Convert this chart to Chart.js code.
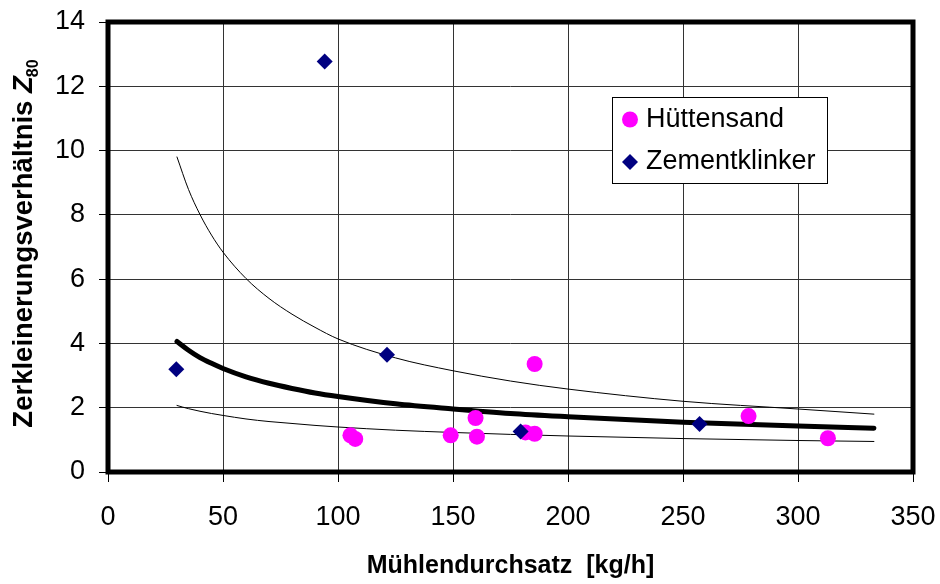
<!DOCTYPE html>
<html><head><meta charset="utf-8">
<script src="https://cdn.jsdelivr.net/npm/chart.js@4.4.1/dist/chart.umd.min.js"></script>
<style>html,body{margin:0;padding:0;background:#fff}#wrap{width:940px;height:584px;position:relative}</style>
</head><body><div id="wrap"><canvas id="c" width="940" height="584"></canvas></div>
<script>
// ---- data ----
const huettensandX = [105.4, 107.5, 149.0, 159.8, 160.4, 181.5, 185.5, 185.5, 278.5, 313.0];
const huettensandY = [1.14, 1.03, 1.14, 1.68, 1.10, 1.23, 1.19, 3.36, 1.74, 1.05];
const klinkerX = [29.7, 94.2, 121.3, 179.4, 257.2];
const klinkerY = [3.20, 12.77, 3.65, 1.26, 1.49];
const curveX = [30, 35, 40, 45, 50, 60, 70, 80, 90, 100, 125, 150, 175, 200, 250, 300, 333];
const fitY   = [4.06, 3.79, 3.56, 3.38, 3.22, 2.96, 2.76, 2.60, 2.46, 2.35, 2.12, 1.96, 1.82, 1.72, 1.55, 1.43, 1.36];
const upperY = [9.80, 8.79, 8.01, 7.37, 6.84, 6.02, 5.40, 4.91, 4.50, 4.14, 3.55, 3.15, 2.83, 2.58, 2.20, 1.96, 1.80];
const lowerY = [2.07, 1.97, 1.89, 1.82, 1.76, 1.65, 1.57, 1.51, 1.45, 1.40, 1.30, 1.23, 1.17, 1.12, 1.04, 0.98, 0.95];
const xTicks = [0, 50, 100, 150, 200, 250, 300, 350];
const yTicks = [0, 2, 4, 6, 8, 10, 12, 14];
const seriesLabels = ['Hüttensand', 'Zementklinker'];
const xTitle = 'Mühlendurchsatz  [kg/h]';
const yTitleMain = 'Zerkleinerungsverhältnis ';
const yTitleSym = 'Z';
const yTitleSub = '80';

const FONT = "'Liberation Sans', Arial, sans-serif";
const MAGENTA = '#FF00FF';
const NAVY = '#000080';

const pts = (xs, ys) => xs.map((x, i) => ({x: x, y: ys[i]}));

const framePlugin = {
  id: 'frame',
  beforeDatasetsDraw(chart) {
    const {ctx, chartArea: a} = chart;
    ctx.save();
    ctx.strokeStyle = '#000';
    ctx.lineWidth = 5;
    ctx.strokeRect(a.left, a.top, a.right - a.left, a.bottom - a.top);
    ctx.restore();
  }
};

const legendPlugin = {
  id: 'boxLegend',
  afterDraw(chart) {
    const ctx = chart.ctx;
    ctx.save();
    const bx = 612.5, by = 97.5, bw = 215, bh = 86;
    ctx.fillStyle = '#fff';
    ctx.fillRect(bx, by, bw, bh);
    ctx.strokeStyle = '#000';
    ctx.lineWidth = 1;
    ctx.strokeRect(bx, by, bw, bh);
    const items = [
      {ds: chart.data.datasets[1], y: 119.5},
      {ds: chart.data.datasets[0], y: 162}
    ];
    items.forEach(it => {
      ctx.fillStyle = it.ds.backgroundColor;
      ctx.beginPath();
      const r = it.ds.pointRadius;
      if (it.ds.pointStyle === 'circle') {
        ctx.arc(630, it.y, r, 0, Math.PI * 2);
      } else {
        ctx.moveTo(630, it.y - r); ctx.lineTo(630 + r, it.y); ctx.lineTo(630, it.y + r); ctx.lineTo(630 - r, it.y); ctx.closePath();
      }
      ctx.fill();
      ctx.fillStyle = '#000';
      ctx.font = '27px ' + FONT;
      ctx.textAlign = 'left';
      ctx.textBaseline = 'middle';
      ctx.fillText(it.ds.label, 646, it.y);
    });
    ctx.restore();
  }
};

const yTitlePlugin = {
  id: 'yTitle',
  afterDraw(chart) {
    const ctx = chart.ctx;
    ctx.save();
    const fMain = 'bold 27.5px ' + FONT;
    const fSym = 'italic bold 27.5px ' + FONT;
    const fSub = 'bold 16px ' + FONT;
    ctx.font = fMain; const w1 = ctx.measureText(yTitleMain).width;
    ctx.font = fSym; const w2 = ctx.measureText(yTitleSym).width;
    ctx.font = fSub; const w3 = ctx.measureText(yTitleSub).width;
    const total = w1 + w2 + w3;
    ctx.translate(32, 243);
    ctx.rotate(-Math.PI / 2);
    ctx.fillStyle = '#000';
    ctx.textBaseline = 'alphabetic';
    ctx.textAlign = 'left';
    let x = -total / 2;
    ctx.font = fMain; ctx.fillText(yTitleMain, x, 0); x += w1;
    ctx.font = fSym; ctx.fillText(yTitleSym, x, 0); x += w2 - 1;
    ctx.font = fSub; ctx.fillText(yTitleSub, x, 6);
    ctx.restore();
  }
};

const lineDs = (label, data, width) => ({
  label: label, data: data, showLine: true, borderColor: '#000', borderWidth: width,
  pointRadius: 0, pointHoverRadius: 0, backgroundColor: '#000', fill: false,
  cubicInterpolationMode: 'monotone', order: 5, borderCapStyle: 'round'
});

new Chart(document.getElementById('c'), {
  type: 'scatter',
  data: {
    datasets: [
      {label: seriesLabels[1], data: pts(klinkerX, klinkerY), pointStyle: 'rectRot', pointRadius: 8,
       backgroundColor: NAVY, borderColor: NAVY, borderWidth: 0, order: 0},
      {label: seriesLabels[0], data: pts(huettensandX, huettensandY), pointStyle: 'circle', pointRadius: 8,
       backgroundColor: MAGENTA, borderColor: MAGENTA, borderWidth: 0, order: 1},
      lineDs('Trend', pts(curveX, fitY), 5),
      lineDs('Obere Grenze', pts(curveX, upperY), 1),
      lineDs('Untere Grenze', pts(curveX, lowerY), 1)
    ]
  },
  options: {
    responsive: false,
    animation: false,
    devicePixelRatio: 1,
    layout: {padding: {top: 22, right: 27, left: 0, bottom: 0}},
    plugins: {legend: {display: false}, tooltip: {enabled: false}},
    scales: {
      x: {
        type: 'linear', min: 0, max: 350,
        afterBuildTicks: s => { s.ticks = xTicks.map(v => ({value: v})); },
        afterFit: s => { s.height = 112; s.paddingLeft = 0; s.paddingRight = 0; },
        grid: {color: '#333', lineWidth: 1, tickLength: 10, tickColor: '#000', drawTicks: true},
        border: {display: false},
        ticks: {font: {family: FONT, size: 27}, color: '#000', padding: 19, maxRotation: 0},
        title: {display: true, text: xTitle, font: {family: FONT, size: 25, weight: 'bold'}, color: '#000', padding: {top: 0, bottom: 3}}
      },
      y: {
        type: 'linear', min: 0, max: 14,
        afterBuildTicks: s => { s.ticks = yTicks.map(v => ({value: v})); },
        afterFit: s => { s.width = 108; s.paddingTop = 0; s.paddingBottom = 0; },
        grid: {color: '#333', lineWidth: 1, tickLength: 9, tickColor: '#000', drawTicks: true},
        border: {display: false},
        ticks: {font: {family: FONT, size: 27}, color: '#000', padding: 14},
        title: {display: false}
      }
    }
  },
  plugins: [framePlugin, legendPlugin, yTitlePlugin]
});
</script>
</body></html>
